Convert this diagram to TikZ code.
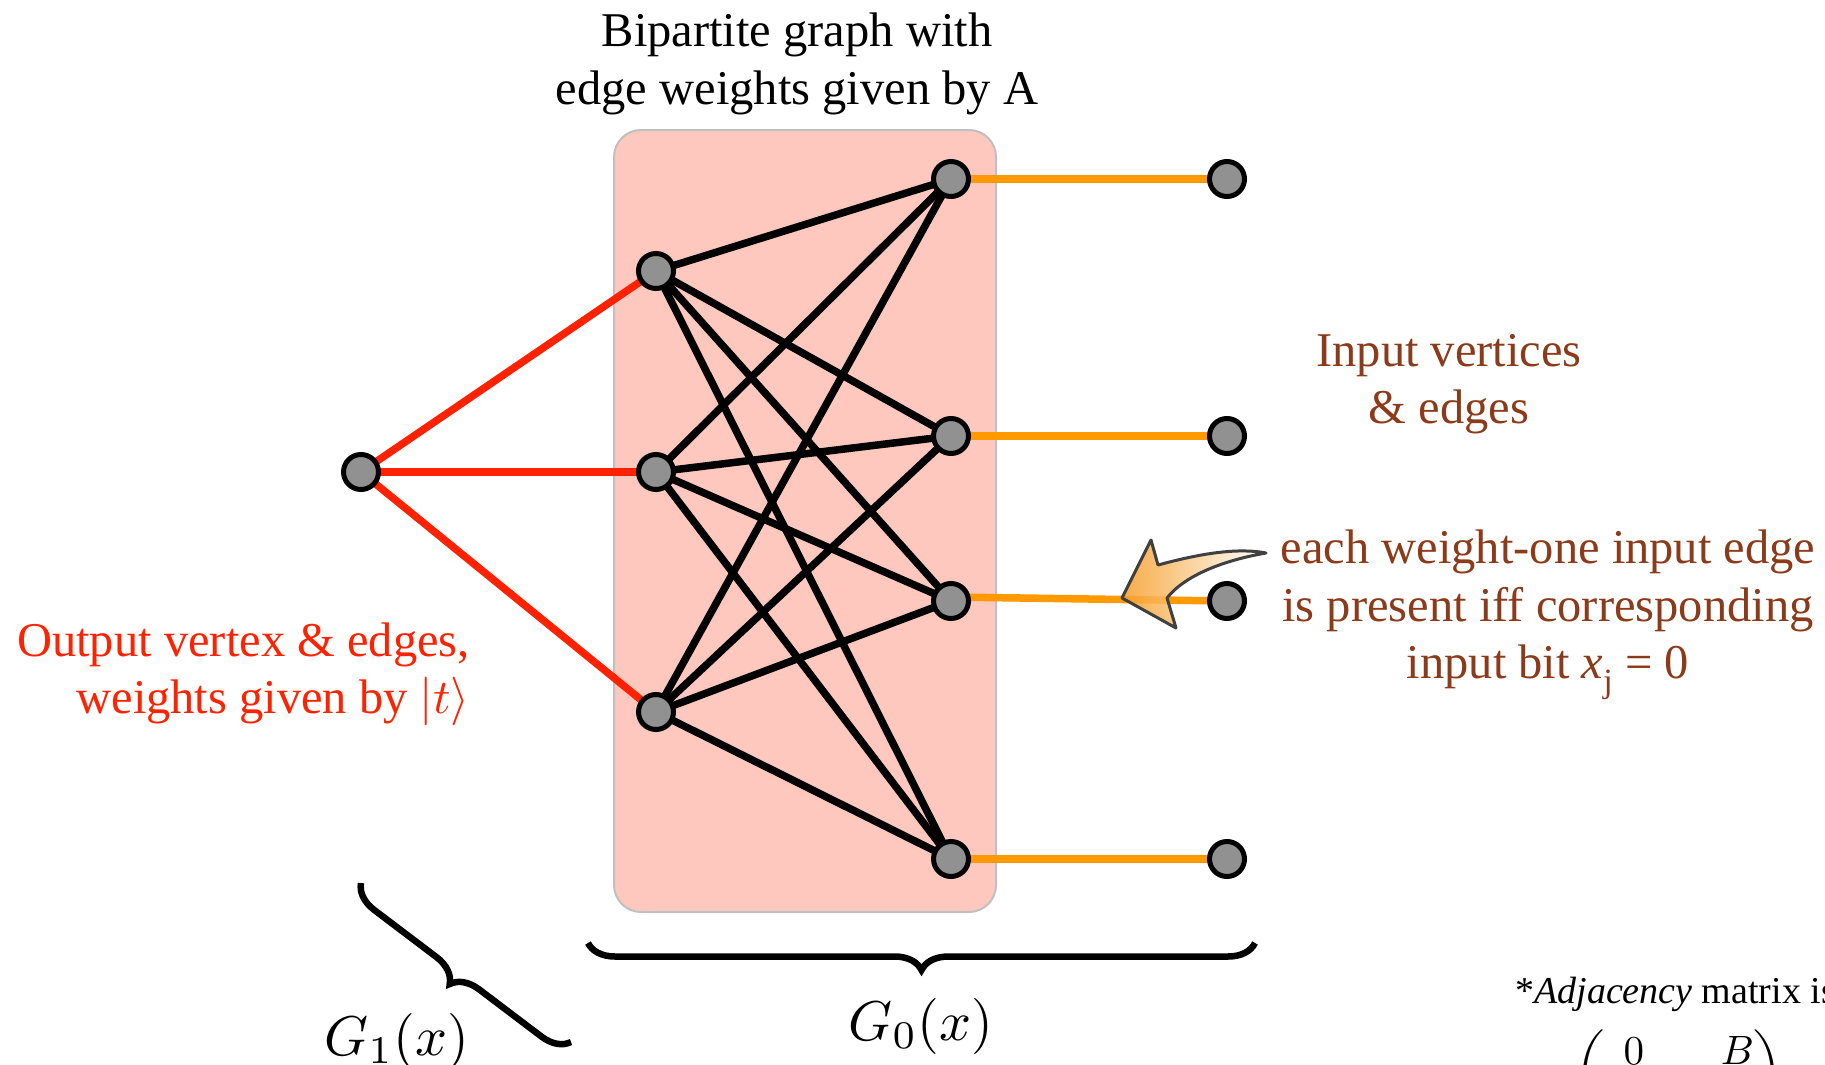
\documentclass[tikz,border=0pt]{standalone}
\usepackage{amsmath}
\usepackage{graphicx}
\usepackage[no-math]{fontspec}
\setmainfont{Liberation Serif}
\usetikzlibrary{decorations.pathreplacing}
\definecolor{boxfill}{RGB}{255,200,190}
\definecolor{boxedge}{RGB}{192,192,192}
\definecolor{nodegray}{RGB}{145,145,145}
\definecolor{redline}{RGB}{255,34,0}
\definecolor{orline}{RGB}{255,153,0}
\definecolor{brownt}{RGB}{139,58,26}
\definecolor{arrowor}{RGB}{246,158,40}
\definecolor{arrowedge}{RGB}{64,64,64}
\pgfdeclarelayer{boxlayer}
\pgfdeclarelayer{edgelayer}
\pgfdeclarelayer{front}
\pgfsetlayers{boxlayer,edgelayer,main,front}
\newcommand{\tenpt}{\fontsize{10}{12}\selectfont}
\begin{document}
\begin{tikzpicture}[x=1pt,y=-1pt,
  vtx/.style={circle,draw=black,fill=nodegray,line width=5pt,minimum size=35pt,inner sep=0pt},
  gbox/.style={draw=boxedge,fill=boxfill,line width=2pt,rounded corners=27pt,minimum width=382pt,minimum height=782pt,inner sep=0pt},
  bedge/.style={line width=7.5pt,black},
  redge/.style={line width=7.5pt,redline},
  oedge/.style={line width=7.5pt,orline},
  lbl/.style={font=\fontsize{48.5}{57.5}\selectfont,align=center,inner sep=0pt},
  mlbl/.style={inner sep=0pt},
  bracest/.style={decorate,decoration={brace,amplitude=27pt},line width=6.5pt,black},
  callout/.style={draw=arrowedge,line width=3pt,line join=round,left color=arrowor,right color=white,fill opacity=0.85}
]
\useasboundingbox (0,0) rectangle (1825,1065);
\begin{pgfonlayer}{boxlayer}
\fill[white] (0,0) rectangle (1825,1065);
\node[gbox] (box) at (805,521) {};
\end{pgfonlayer}

% vertices
\node[vtx] (o) at (361,472) {};
\node[vtx] (l1) at (656,271) {};
\node[vtx] (l2) at (656,472) {};
\node[vtx] (l3) at (656,712) {};
\node[vtx] (r1) at (951,179) {};
\node[vtx] (r2) at (951,436) {};
\node[vtx] (r3) at (951,601) {};
\node[vtx] (r4) at (951,859) {};
\node[vtx] (i1) at (1227,179) {};
\node[vtx] (i2) at (1227,436) {};
\node[vtx] (i3) at (1227,601) {};
\node[vtx] (i4) at (1227,859) {};

\begin{pgfonlayer}{edgelayer}
\draw[redge] (o.center) -- (l1.center);
\draw[redge] (o.center) -- (l2.center);
\draw[redge] (o.center) -- (l3.center);
\foreach \a in {l1,l2,l3}{
  \foreach \b in {r1,r2,r3,r4}{
    \draw[bedge] (\a.center) -- (\b.center);
  }
}
\draw[oedge] (r1.center) -- (i1.center);
\draw[oedge] (r2.center) -- (i2.center);
\draw[oedge] (r3.center) ++(0,-4) -- (i3.center);
\draw[oedge] (r4.center) -- (i4.center);
\end{pgfonlayer}

% callout arrow
\begin{pgfonlayer}{front}
\shade[callout] (1122,598) -- (1151,540) -- (1158,565)
  .. controls (1195,555) and (1235,547) .. (1266,553)
  .. controls (1225,560) and (1185,575) .. (1167,598)
  -- (1176,628) -- cycle;
\end{pgfonlayer}

% labels
\node[lbl] (title) at (797,64) {Bipartite graph with\\edge weights given by A};
\node[lbl,text=brownt] (inlbl) at (1449,384) {Input vertices\\\& edges};
\node[lbl,text=brownt] (note) at (1548,615) {each weight-one input edge\\is present iff corresponding\\input bit \textit{x}\textsubscript{j} = 0};
\node[lbl,text=redline,align=right,anchor=east] (outlbl) at (470,674) {Output vertex \& edges,\\weights given by \scalebox{4.85}{\tenpt$|t\rangle$}};

% braces
\coordinate (b0a) at (1255,943);
\coordinate (b0b) at (588,943);
\coordinate (b1a) at (571,1042);
\coordinate (b1b) at (361,883);
\draw[bracest] (b0a) -- (b0b);
\draw[bracest] (b1a) -- (b1b);
\node[mlbl] (g1) at (397,1041) {\scalebox{5.6}{\tenpt$G_1(x)$}};
\node[mlbl] (g0) at (921,1026) {\scalebox{5.6}{\tenpt$G_0(x)$}};

% adjacency note
\node[font=\fontsize{38}{45}\selectfont,anchor=base west,inner sep=0pt] (adj) at (1515,1003) {*\textit{Adjacency} matrix is};
\node[anchor=north west,inner sep=0pt] (mat) at (1574,1030)
  {\scalebox{4.1}{\tenpt$\arraycolsep=7pt\begin{pmatrix}0 & B\\ \phantom{B^T} & \phantom{0}\end{pmatrix}$}};
\end{tikzpicture}
\end{document}
